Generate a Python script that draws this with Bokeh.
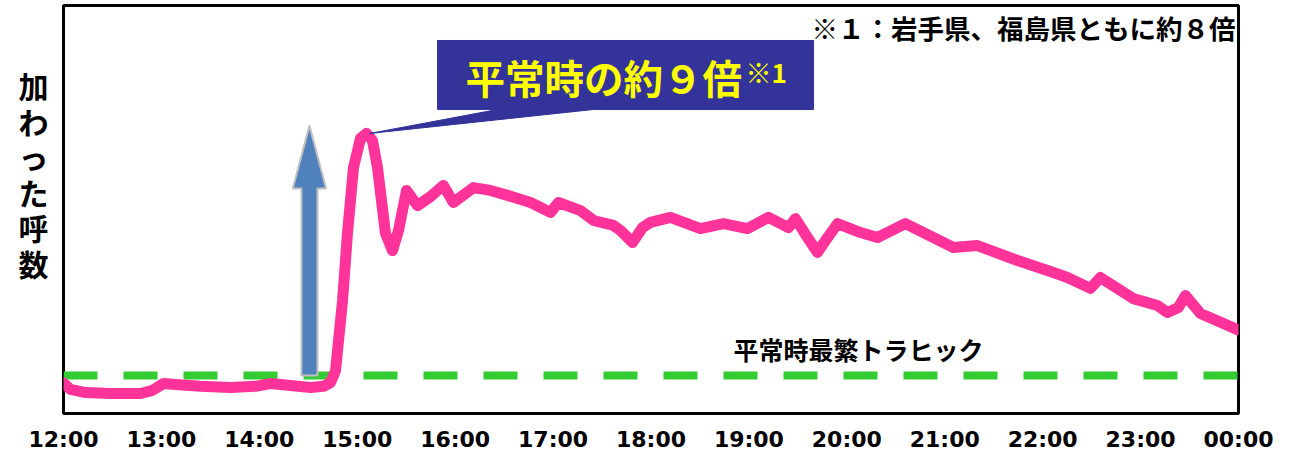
from bokeh.plotting import figure
from bokeh.models import Range1d, FixedTicker, Span, Label
from bokeh.embed import file_html
from bokeh.resources import INLINE

# ---- data (minutes after 12:00, call volume with normal peak = 100) ----
minutes = [0, 4.3, 13.5, 28.8, 47.2, 54.5, 61.3, 68.6, 83.9, 102.3, 117.6, 126.8,
           139.1, 151.3, 159.3, 163.6, 166.7, 171.0, 174.0, 177.7, 182.0, 185.7,
           189.3, 192.4, 197.3, 201.6, 205.3, 210.2, 216.9, 224.9, 232.8, 238.9,
           251.2, 261.6, 272.1, 286.2, 298.4, 303.3, 316.8, 324.8, 337.0, 341.3, 348.7,
           354.8, 359.7, 371.9, 390.3, 404.4, 419.1, 432.0, 444.2, 448.5, 455.9, 462.0,
           466.9, 474.3, 488.4, 498.8, 515.9, 545.3, 560.0, 584.6, 606.6, 615.2, 629.3,
           635.4, 655.6, 670.3, 676.5, 683.2, 687.5, 696.7, 719.4]
traffic = [76, 55, 45, 42, 42, 52, 74, 71, 65, 61, 65, 74,
           68, 61, 65, 77, 116, 342, 558, 771, 865, 881,
           858, 771, 558, 503, 568, 697, 648, 677, 713, 658,
           706, 697, 681, 658, 626, 658, 632, 600, 584, 568, 529,
           577, 594, 610, 574, 590, 574, 610, 577, 606, 545, 497,
           535, 590, 561, 545, 590, 513, 519, 471, 432, 416, 381,
           416, 348, 326, 303, 319, 358, 300, 248]
normal_peak = 100
tick_minutes = [0, 60, 120, 180, 240, 300, 360, 420, 480, 540, 600, 660, 720]
tick_labels = ["12:00", "13:00", "14:00", "15:00", "16:00", "17:00", "18:00",
               "19:00", "20:00", "21:00", "22:00", "23:00", "00:00"]

y_label = "加\nわ\nっ\nた\n呼\n数"
callout_text = "平常時の約９倍"
callout_note_mark = "※1"
note_text = "※１：岩手県、福島県ともに約８倍"
normal_label = "平常時最繁トラヒック"

JP = "Noto Sans CJK JP"

p = figure(frame_width=1175, frame_height=408, min_border_left=63, min_border_right=55,
           min_border_top=5, min_border_bottom=0,
           x_range=Range1d(0, 720), y_range=Range1d(-22.6, 1293.5),
           output_backend="svg", toolbar_location=None, tools="")
p.background_fill_color = "white"
p.border_fill_color = "white"
p.outline_line_color = "black"
p.outline_line_width = 3
p.xgrid.visible = False
p.ygrid.visible = False

ax = p.xaxis[0]
ax.ticker = FixedTicker(ticks=tick_minutes)
ax.major_label_overrides = {t: l for t, l in zip(tick_minutes, tick_labels)}
ax.axis_line_color = None
ax.major_tick_line_color = None
ax.minor_tick_line_color = None
ax.major_tick_out = 0
ax.major_label_standoff = 13
ax.major_label_text_font = "DejaVu Sans"
ax.major_label_text_font_style = "bold"
ax.major_label_text_font_size = "22px"
ax.major_label_text_color = "black"

yax = p.yaxis[0]
yax.ticker = FixedTicker(ticks=[])
yax.axis_line_color = None
yax.major_tick_line_color = None
yax.minor_tick_line_color = None
yax.major_tick_out = 0
yax.major_label_standoff = 0
yax.major_label_text_font_size = "0px"
# two trailing empty lines lift the stacked label above the frame centre
yax.axis_label = y_label + "\n\n"
yax.axis_label_orientation = "horizontal"
yax.axis_label_text_font = JP
yax.axis_label_text_font_style = "bold"
yax.axis_label_text_font_size = "30px"
yax.axis_label_text_line_height = 0.806
yax.axis_label_text_color = "black"
yax.axis_label_standoff = 15

# normal peak dashed line
p.add_layout(Span(location=normal_peak, dimension="width", line_color="#33CC33",
                  line_width=8, line_dash="34 26", level="underlay"))

# upward arrow (shaft center ~150.7 min)
ax_c = 150.7
p.patch([ax_c - 4.9, ax_c - 4.9, ax_c - 10.2, ax_c, ax_c + 10.2, ax_c + 4.9, ax_c + 4.9],
        [normal_peak, 703, 703, 906, 703, 703, normal_peak],
        fill_color="#4F81BD", line_color="#BFBFBF", line_width=2)

# traffic line
p.line(minutes, traffic, line_color="#FF3399", line_width=11,
       line_join="round", line_cap="round")

# callout box with tail pointing to the peak
peak_i = traffic.index(max(traffic))
p.patch([229.2, 459.6, 459.6, 324.8, minutes[peak_i] + 1.8, 265.9, 229.2],
        [1180.6, 1180.6, 958.1, 958.1, 880.6, 958.1, 958.1],
        fill_color="#333399", line_color="#333399", line_width=1)

p.add_layout(Label(x=246.3, y=1064.5, text=callout_text, text_font=JP,
                   text_font_style="bold", text_font_size="39.5px", text_color="#FFFF00",
                   text_align="left", text_baseline="middle"))
p.add_layout(Label(x=417.9, y=1080.6, text=callout_note_mark, text_font=JP,
                   text_font_style="bold", text_font_size="26px", text_color="#FFFF00",
                   text_align="left", text_baseline="middle"))
p.add_layout(Label(x=718.1, y=1222, text=note_text, text_font=JP,
                   text_font_style="bold", text_font_size="26.5px", text_color="black",
                   text_align="right", text_baseline="middle"))
p.add_layout(Label(x=410.5, y=183.9, text=normal_label, text_font=JP,
                   text_font_style="bold", text_font_size="25px", text_color="black",
                   text_align="left", text_baseline="middle"))

open("out.html", "w").write(file_html(p, INLINE))
